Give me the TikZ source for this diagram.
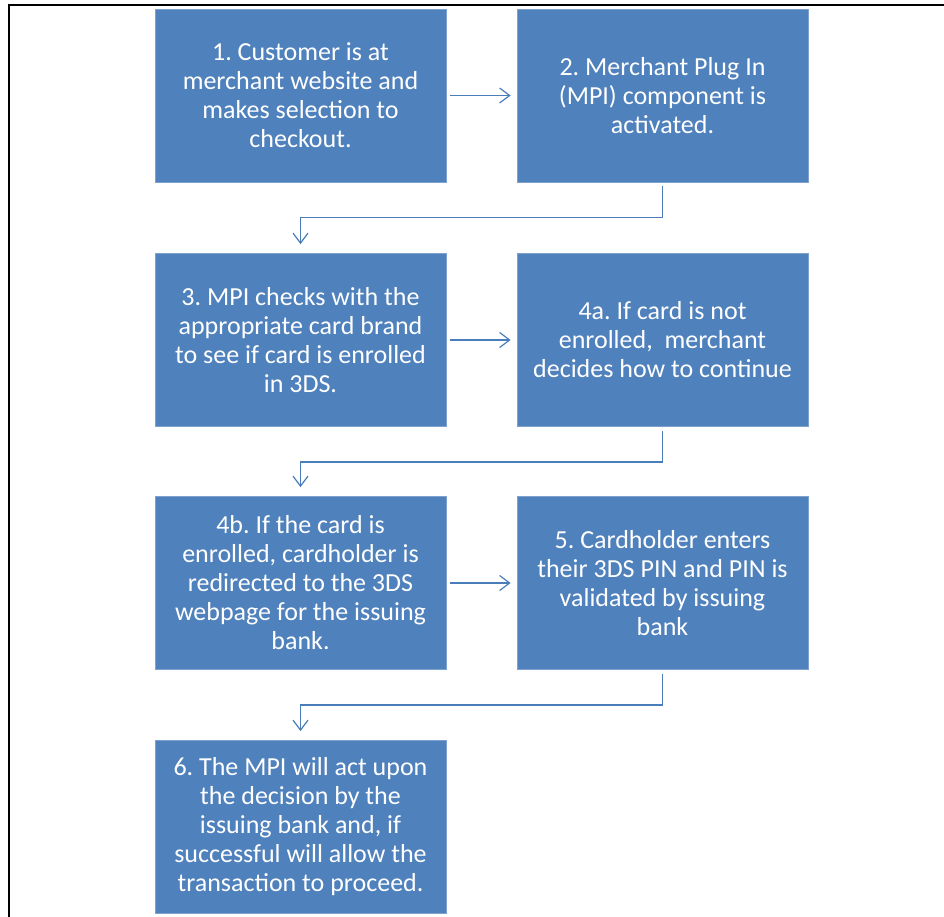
\documentclass[tikz,border=0pt]{standalone}
\usepackage{fontspec}
\setmainfont{Carlito}
\frenchspacing
\usetikzlibrary{arrows.meta}
\definecolor{boxblue}{HTML}{4F81BD}
\definecolor{boxedge}{HTML}{7EA1D0}
\definecolor{linkblue}{HTML}{4A7EBB}
\tikzset{
  stepbox/.style={draw=boxedge, line width=0.8pt, fill=boxblue, text=white,
    minimum width=291pt, minimum height=173pt, inner sep=0pt,
    align=center, font=\fontsize{26}{29}\selectfont},
  link/.style={draw=linkblue, line width=1.2pt,
    -{Straight Barb[length=10pt, width=15pt, line width=1.2pt]}},
}
\begin{document}
\begin{tikzpicture}[x=1pt, y=-1pt]
  \useasboundingbox (0,0) rectangle (944,917);
  % page frame
  \draw[line width=2.6pt] (9,917) -- (9,5) -- (944,5);

  \node[stepbox] (s1)  at (300.5, 95.5) {1. Customer is at\\merchant website and\\makes selection to\\checkout.};
  \node[stepbox] (s2)  at (662.5, 95.5) {2. Merchant Plug In\\(MPI) component is\\activated.};
  \node[stepbox] (s3)  at (300.5,340) {3. MPI checks with the\\appropriate card brand\\to see if card is enrolled\\in 3DS.};
  \node[stepbox] (s4a) at (662.5,340) {4a. If card is not\\enrolled,\ \ merchant\\decides how to continue};
  \node[stepbox] (s4b) at (300.5,583) {4b. If the card is\\enrolled, cardholder is\\redirected to the 3DS\\webpage for the issuing\\bank.};
  \node[stepbox] (s5)  at (662.5,583) {5. Cardholder enters\\their 3DS PIN and PIN is\\validated by issuing\\bank};
  \node[stepbox] (s6)  at (300.5,827) {6. The MPI will act upon\\the decision by the\\issuing bank and, if\\successful will allow the\\transaction to proceed.};

  % horizontal links
  \draw[link] ([xshift=4pt]s1.east)  -- ([xshift=-6pt]s2.west);
  \draw[link] ([xshift=4pt]s3.east)  -- ([xshift=-6pt]s4a.west);
  \draw[link] ([xshift=4pt]s4b.east) -- ([xshift=-6pt]s5.west);

  % elbow links between rows
  \draw[link] ([yshift=-4pt]s2.south)  -- ++(0,31) -| ([yshift=9pt]s3.north);
  \draw[link] ([yshift=-4pt]s4a.south) -- ++(0,31) -| ([yshift=9pt]s4b.north);
  \draw[link] ([yshift=-4pt]s5.south)  -- ++(0,31) -| ([yshift=9pt]s6.north);
\end{tikzpicture}
\end{document}
